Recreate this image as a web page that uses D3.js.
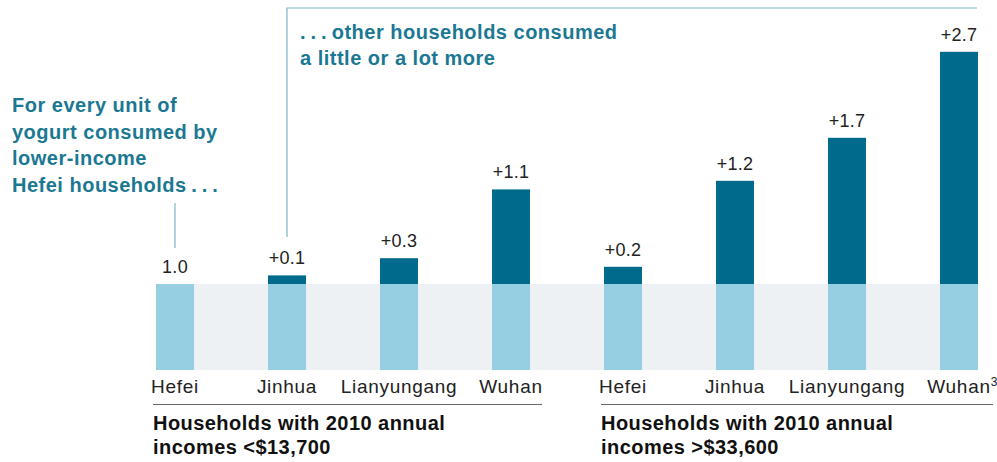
<!DOCTYPE html>
<html>
<head>
<meta charset="utf-8">
<script src="https://cdn.jsdelivr.net/npm/d3@7"></script>
<style>
  body { margin: 0; background: #fff; }
  svg { display: block; font-family: "Liberation Sans", Arial, sans-serif; }
</style>
</head>
<body>
<svg id="chart" width="997" height="462"></svg>
<script>
// ---- Data
const cities = ["Hefei", "Jinhua", "Lianyungang", "Wuhan", "Hefei", "Jinhua", "Lianyungang", "Wuhan"];
const baseValues = [1, 1, 1, 1, 1, 1, 1, 1];
const extraValues = [0, 0.1, 0.3, 1.1, 0.2, 1.2, 1.7, 2.7];
const valueLabels = ["1.0", "+0.1", "+0.3", "+1.1", "+0.2", "+1.2", "+1.7", "+2.7"];
const groupTitles = [
    ["Households with 2010 annual", "incomes <$13,700"],
    ["Households with 2010 annual", "incomes >$33,600"]
];
const noteLeft = ["For every unit of", "yogurt consumed by", "lower-income", "Hefei households\u2009.\u2009.\u2009."];
const noteRight = [".\u2009.\u2009.\u2009other households consumed", "a little or a lot more"];

const darkBlue = "#006a8c";
const lightBlue = "#95cfe1";
const bandGray = "#edf1f4";
const teal = "#1b7893";
const lineTeal = "#7fb5c6";

const svg = d3.select("#chart");
const idx = d3.range(cities.length);

// ---- Escalas
const step = 112, bw = 38;
const pIn = 1 - bw / step;
const mapX = d3.scaleBand()
    .domain(idx)
    .range([156 - step * pIn / 2, 156 - step * pIn / 2 + step * cities.length])
    .paddingInner(pIn)
    .paddingOuter(pIn / 2);

const mapY = d3.scaleLinear().domain([0, 4]).range([370, 26]);

// ---- Gray band behind the base
svg.append("rect")
    .attr("x", mapX(0))
    .attr("y", mapY(1))
    .attr("width", mapX(7) + mapX.bandwidth() - mapX(0))
    .attr("height", mapY(0) - mapY(1))
    .attr("fill", bandGray);

// ---- Bars
const bars = svg.append("g");
bars.selectAll(".base")
    .data(idx)
    .enter()
    .append("rect")
    .attr("class", "base")
    .attr("x", i => mapX(i))
    .attr("y", i => mapY(baseValues[i]))
    .attr("width", mapX.bandwidth())
    .attr("height", i => mapY(0) - mapY(baseValues[i]))
    .attr("fill", lightBlue);

bars.selectAll(".extra")
    .data(idx.filter(i => extraValues[i] > 0))
    .enter()
    .append("rect")
    .attr("class", "extra")
    .attr("x", i => mapX(i))
    .attr("y", i => mapY(baseValues[i] + extraValues[i]))
    .attr("width", mapX.bandwidth())
    .attr("height", i => mapY(baseValues[i]) - mapY(baseValues[i] + extraValues[i]))
    .attr("fill", darkBlue);

// value labels
svg.append("g").selectAll("text")
    .data(idx)
    .enter()
    .append("text")
    .attr("x", i => mapX(i) + mapX.bandwidth() / 2)
    .attr("y", i => mapY(baseValues[i] + extraValues[i]) - 11)
    .attr("text-anchor", "middle")
    .attr("font-size", 18)
    .attr("letter-spacing", 0.3)
    .attr("fill", "#222")
    .text(i => valueLabels[i]);

// category labels
const catLabels = svg.append("g").selectAll("text")
    .data(idx)
    .enter()
    .append("text")
    .attr("x", i => mapX(i) + mapX.bandwidth() / 2)
    .attr("y", 393)
    .attr("text-anchor", "middle")
    .attr("font-size", 19)
    .attr("letter-spacing", 0.7)
    .attr("fill", "#222")
    .text(i => cities[i]);

// footnote marker on last Wuhan
const lastLen = catLabels.filter(i => i === 7).node().getComputedTextLength();
svg.append("text")
    .attr("x", mapX(7) + mapX.bandwidth() / 2 + lastLen / 2)
    .attr("y", 386)
    .attr("font-size", 12)
    .attr("fill", "#222")
    .text("3");

// ---- Group rules and titles
const groups = [[0, 3], [4, 7]];
groups.forEach(([a, b], g) => {
    const x1 = g === 0 ? 153 : 601;
    const x2 = g === 0 ? 542 : 993;
    svg.append("line")
        .attr("x1", x1).attr("x2", x2)
        .attr("y1", 404.5).attr("y2", 404.5)
        .attr("stroke", "#666")
        .attr("stroke-width", 1);
    const t = svg.append("text")
        .attr("x", x1)
        .attr("y", 430)
        .attr("font-size", 20)
        .attr("letter-spacing", 0.45)
        .attr("font-weight", "bold")
        .attr("fill", "#111");
    groupTitles[g].forEach((s, k) => {
        t.append("tspan").attr("x", x1).attr("dy", k === 0 ? 0 : 24).text(s);
    });
});

// ---- Annotations
const leftNote = svg.append("text")
    .attr("x", 12)
    .attr("y", 112)
    .attr("font-size", 20)
    .attr("letter-spacing", 0.5)
    .attr("font-weight", "bold")
    .attr("fill", teal);
noteLeft.forEach((s, k) => {
    leftNote.append("tspan").attr("x", 12).attr("dy", k === 0 ? 0 : 26.5).text(s);
});

svg.append("line")
    .attr("x1", mapX(0) + mapX.bandwidth() / 2).attr("x2", mapX(0) + mapX.bandwidth() / 2)
    .attr("y1", 203).attr("y2", 248)
    .attr("stroke", lineTeal)
    .attr("stroke-width", 1.2);

const bx = mapX(1) + mapX.bandwidth() / 2;
svg.append("path")
    .attr("d", `M${bx},237V8H977`)
    .attr("fill", "none")
    .attr("stroke", lineTeal)
    .attr("stroke-width", 1.2);

const rightNote = svg.append("text")
    .attr("x", 300)
    .attr("y", 39)
    .attr("font-size", 20)
    .attr("letter-spacing", 0.5)
    .attr("font-weight", "bold")
    .attr("fill", teal);
noteRight.forEach((s, k) => {
    rightNote.append("tspan").attr("x", 300).attr("dy", k === 0 ? 0 : 26).text(s);
});
</script>
</body>
</html>
